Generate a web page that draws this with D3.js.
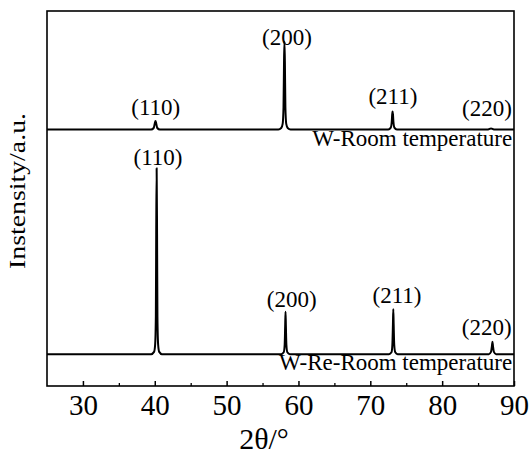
<!DOCTYPE html>
<html>
<head>
<meta charset="utf-8">
<script src="https://cdn.jsdelivr.net/npm/d3@7"></script>
<style>
  body { margin: 0; background: #fff; }
  svg text { font-family: "Liberation Serif", "DejaVu Serif", "Times New Roman", serif !important; fill: #000; }
</style>
</head>
<body>
<div id="chart"></div>
<script>
    var width = 531,
      height = 454,
      margin = { top: 11, right: 17, bottom: 68, left: 47 };

    var serif = "'Liberation Serif', 'DejaVu Serif', serif";

    // 2theta (deg) / intensity above baseline (a.u.)
    var wRoom = [
      [25, 0], [39.5, 0], [39.85, 0.4], [40.0, 1.6], [40.1, 2.3], [40.2, 1.6], [40.35, 0.4], [40.7, 0],
      [57.2, 0], [57.6, 0.4], [57.8, 1.5], [57.92, 6], [57.99, 18], [58.05, 23.5], [58.11, 18], [58.18, 6], [58.3, 1.5], [58.5, 0.4], [58.9, 0],
      [72.5, 0], [72.85, 0.5], [72.98, 2], [73.05, 4.1], [73.1, 4.8], [73.15, 4.1], [73.22, 2], [73.35, 0.5], [73.7, 0],
      [86.4, 0], [86.8, 0.3], [87.2, 0], [90, 0]
    ];
    var wReRoom = [
      [25, 0], [39.5, 0], [39.9, 0.6], [40.05, 2.5], [40.15, 10], [40.2, 32], [40.26, 49.6], [40.32, 32], [40.37, 10], [40.47, 2.5], [40.62, 0.6], [41.0, 0],
      [57.6, 0], [57.95, 0.5], [58.08, 2.5], [58.15, 7.5], [58.2, 11.3], [58.25, 7.5], [58.32, 2.5], [58.45, 0.5], [58.8, 0],
      [72.6, 0], [72.95, 0.5], [73.07, 2.5], [73.15, 8], [73.2, 12], [73.25, 8], [73.33, 2.5], [73.47, 0.5], [73.8, 0],
      [86.5, 0], [86.8, 0.6], [86.93, 2.2], [87.0, 3.3], [87.07, 2.2], [87.2, 0.6], [87.5, 0], [90, 0]
    ];

    var seriesNames = ["W-Room temperature", "W-Re-Room temperature"];
    var seriesOffsets = [68.4, 8.5];
    // end of name label, in data units
    var nameAnchors = [[89.75, 64.0], [89.75, 4.3]];

    // peak labels: text, 2theta, intensity (stacked units)
    var hkl = ["(110)", "(200)", "(211)", "(220)"];
    var wRoomLabelPos = [[40.14, 72.3], [58.4, 90.9], [73.15, 75.2], [86.24, 72.1]];
    var wReRoomLabelPos = [[40.45, 58.9], [59.06, 21.1], [73.71, 22.1], [86.2, 13.6]];

    var xTicks = [30, 40, 50, 60, 70, 80, 90];
    var xMinorTicks = [35, 45, 55, 65, 75, 85];

    var innerW = width - margin.left - margin.right,
      innerH = height - margin.top - margin.bottom;

    var x = d3.scaleLinear().domain([25, 90]).range([0, innerW]);
    var y = d3.scaleLinear().domain([0, 100]).range([innerH, 0]);

    var svg = d3.select("#chart").append("svg")
      .attr("width", width)
      .attr("height", height)
      .style("font-family", serif)
      .append("g")
      .attr("transform", "translate(" + margin.left + "," + margin.top + ")");

    svg.append("clipPath").attr("id", "clip")
      .append("rect").attr("width", innerW).attr("height", innerH);

    var line = d3.line()
      .curve(d3.curveMonotoneX)
      .x(function(d){ return x(d[0]); });

    var traces = [wRoom, wReRoom];
    var labelPos = [wRoomLabelPos, wReRoomLabelPos];

    traces.forEach(function(data, i) {
      var off = seriesOffsets[i];
      svg.append("path")
        .datum(data)
        .attr("clip-path", "url(#clip)")
        .attr("d", line.y(function(d){ return y(d[1] + off); }))
        .style("fill", "none")
        .style("stroke", "#000")
        .style("stroke-width", 2)
        .style("stroke-linejoin", "round");

      svg.append("text")
        .attr("x", x(nameAnchors[i][0]))
        .attr("y", y(nameAnchors[i][1]))
        .attr("text-anchor", "end")
        .style("font-family", serif)
        .style("font-size", "23px")
        .text(seriesNames[i]);

      svg.selectAll(null)
        .data(labelPos[i])
        .enter()
        .append("text")
        .attr("x", function(d){ return x(d[0]); })
        .attr("y", function(d){ return y(d[1]); })
        .attr("text-anchor", "middle")
        .style("font-family", serif)
        .style("font-size", "23px")
        .text(function(d, j){ return hkl[j]; });
    });

    // bottom axis, ticks pointing inward
    var xAxis = svg.append("g")
      .attr("transform", "translate(0," + innerH + ")")
      .call(d3.axisBottom(x).tickValues(xTicks).tickSizeInner(-5).tickSizeOuter(0).tickPadding(10).tickFormat(d3.format("d")));
    xAxis.attr("font-family", null);
    xAxis.select(".domain").remove();
    xAxis.selectAll("line").style("stroke-width", 1.5);
    xAxis.selectAll("text")
      .attr("dy", null)
      .attr("y", 29)
      .style("font-size", "29px")
      .style("font-family", serif);

    var xMinor = svg.append("g")
      .attr("transform", "translate(0," + innerH + ")")
      .call(d3.axisBottom(x).tickValues(xMinorTicks).tickSizeInner(-3).tickSizeOuter(0).tickFormat(""));
    xMinor.select(".domain").remove();
    xMinor.selectAll("line").style("stroke-width", 1.3);

    // frame
    svg.append("rect")
      .attr("width", innerW)
      .attr("height", innerH)
      .style("fill", "none")
      .style("stroke", "#000")
      .style("stroke-width", 1.6);

    svg.append("text")
      .attr("x", 217)
      .attr("y", innerH + 63)
      .attr("text-anchor", "middle")
      .style("font-family", serif)
      .style("font-size", "30px")
      .text("2θ/°");

    svg.append("text")
      .attr("transform", "translate(-22," + 180 + ") rotate(-90)")
      .attr("text-anchor", "middle")
      .attr("textLength", 156)
      .attr("lengthAdjust", "spacingAndGlyphs")
      .style("font-family", serif)
      .style("font-size", "23px")
      .text("Instensity/a.u.");
</script>
</body>
</html>
